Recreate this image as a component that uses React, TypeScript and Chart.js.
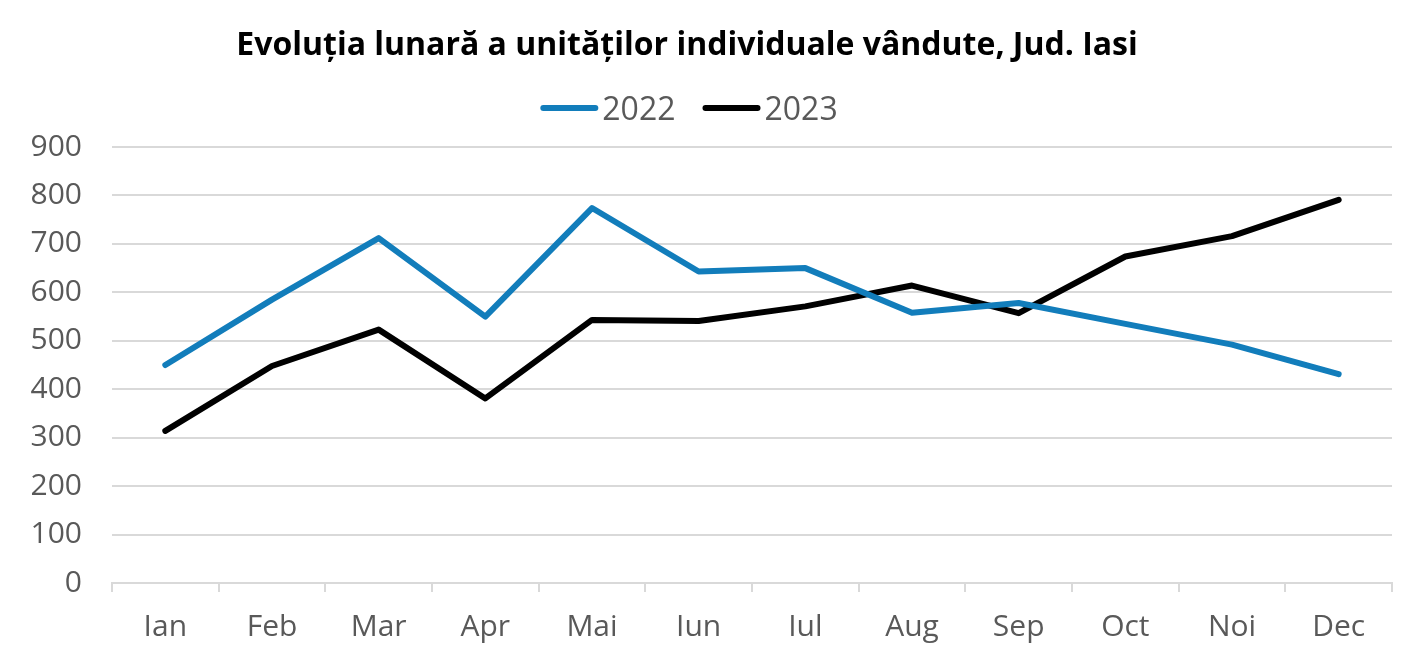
import React, { useEffect, useRef } from "react";
import { Chart, registerables } from "chart.js";

Chart.register(...registerables);

const months = ["Ian", "Feb", "Mar", "Apr", "Mai", "Iun", "Iul", "Aug", "Sep", "Oct", "Noi", "Dec"];
const values2022 = [450, 585, 712, 550, 774, 643, 650, 558, 578, 535, 492, 431];
const values2023 = [314, 448, 523, 381, 543, 541, 571, 614, 557, 674, 716, 791];
const seriesLabels = ["2022", "2023"];
const seriesColors = ["#127DBB", "#000000"];
const yMin = 0;
const yMax = 900;
const yStep = 100;
const titleText = "Evoluția lunară a unităților individuale vândute, Jud. Iasi";

const FONT = "'Open Sans', 'Noto Sans', sans-serif";
const GRID = "#d9d9d9";
const TEXT = "#595959";

const headerPlugin = {
  id: "header",
  afterDraw(chart: any) {
    const ctx = chart.ctx as CanvasRenderingContext2D;
    ctx.save();
    // title
    ctx.fillStyle = "#000";
    ctx.font = `bold 32px ${FONT}`;
    ctx.textAlign = "center";
    ctx.textBaseline = "alphabetic";
    ctx.fillText(titleText, 679, 47);
    // legend
    ctx.font = `32px ${FONT}`;
    const lineLen = 58;
    const gap = 4;
    const itemGap = 27;
    const widths = seriesLabels.map((l) => lineLen + gap + ctx.measureText(l).width);
    const total = widths.reduce((a, b) => a + b, 0) + itemGap * (widths.length - 1);
    let x = 681 - total / 2;
    const lineY = 100;
    seriesLabels.forEach((label, i) => {
      ctx.strokeStyle = seriesColors[i];
      ctx.lineWidth = 6;
      ctx.lineCap = "round";
      ctx.beginPath();
      ctx.moveTo(x + 3, lineY);
      ctx.lineTo(x + lineLen - 3, lineY);
      ctx.stroke();
      ctx.fillStyle = TEXT;
      ctx.textAlign = "left";
      ctx.textBaseline = "alphabetic";
      ctx.fillText(label, x + lineLen + gap, 112);
      x += widths[i] + itemGap;
    });
    ctx.restore();
  },
};

export default function App() {
  const canvasRef = useRef<HTMLCanvasElement | null>(null);

  useEffect(() => {
    if (!canvasRef.current) return;
    const chart = new Chart(canvasRef.current, {
      type: "line",
      data: {
        labels: months,
        datasets: [
          {
            label: seriesLabels[0],
            data: values2022,
            borderColor: seriesColors[0],
            backgroundColor: seriesColors[0],
            borderWidth: 6,
            pointRadius: 0,
            tension: 0,
            borderCapStyle: "round",
            borderJoinStyle: "round",
          },
          {
            label: seriesLabels[1],
            data: values2023,
            borderColor: seriesColors[1],
            backgroundColor: seriesColors[1],
            borderWidth: 6,
            pointRadius: 0,
            tension: 0,
            borderCapStyle: "round",
            borderJoinStyle: "round",
          },
        ],
      },
      options: {
        animation: false,
        responsive: true,
        maintainAspectRatio: false,
        layout: { padding: { top: 139, right: 18, left: 0, bottom: 0 } },
        plugins: {
          legend: { display: false },
          title: { display: false },
          tooltip: { enabled: false },
        },
        scales: {
          x: {
            offset: true,
            grid: {
              offset: true,
              drawOnChartArea: false,
              drawTicks: true,
              tickLength: 9,
              color: GRID,
              lineWidth: 2,
            },
            border: { display: true, color: GRID, width: 2 },
            ticks: {
              color: TEXT,
              font: { family: FONT, size: 30 },
              padding: 17,
              maxRotation: 0,
            },
            afterFit(scale: any) {
              scale.height = 64;
            },
          },
          y: {
            min: yMin,
            max: yMax,
            grid: { color: GRID, lineWidth: 2, drawTicks: false },
            border: { display: false },
            ticks: {
              stepSize: yStep,
              color: TEXT,
              font: { family: FONT, size: 30 },
              padding: 30,
            },
            afterFit(scale: any) {
              scale.width = 104;
            },
          },
        },
      },
      plugins: [headerPlugin],
    });
    return () => chart.destroy();
  }, []);

  return (
    <div style={{ position: "relative", width: "1402px", height: "639px" }}>
      <canvas ref={canvasRef} />
    </div>
  );
}
